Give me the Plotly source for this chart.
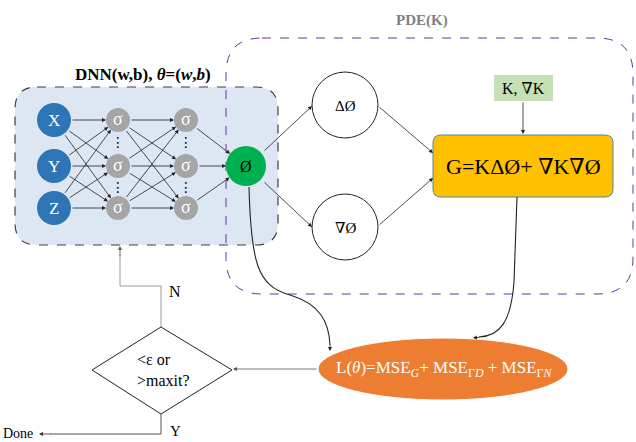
import numpy as np
import plotly.graph_objects as go

# labels
input_labels = ["X", "Y", "Z"]
hidden_label = "σ"
output_label = "Ø"
pde_terms = ["ΔØ", "∇Ø"]
coef_label = "K, ∇K"
pde_formula = "G=KΔØ+ ∇K∇Ø"
loss_formula = "L(<i>θ</i>)=MSE<sub><i>G</i></sub>+ MSE<sub>Γ<i>D</i></sub> + MSE<sub>Γ<i>N</i></sub>"
check_label = "&lt;ε or<br>&gt;maxit?"
dnn_title = "<b>DNN(w,b), <i>θ</i>=(<i>w</i>,<i>b</i>)</b>"
pde_title = "<b>PDE(K)</b>"

W, H = 636, 442
SERIF = "Liberation Serif, Times New Roman, DejaVu Serif, serif"

shapes = []
annotations = []


def rounded_rect(x0, y0, x1, y1, r):
    return (f"M {x0+r},{y0} L {x1-r},{y0} Q {x1},{y0} {x1},{y0+r} "
            f"L {x1},{y1-r} Q {x1},{y1} {x1-r},{y1} L {x0+r},{y1} "
            f"Q {x0},{y1} {x0},{y1-r} L {x0},{y0+r} Q {x0},{y0} {x0+r},{y0} Z")


def circle(cx, cy, r, fill, line="rgba(0,0,0,0)", lw=0):
    shapes.append(dict(type="circle", x0=cx - r, x1=cx + r, y0=cy - r, y1=cy + r,
                       fillcolor=fill, line=dict(color=line, width=lw)))


def text(x, y, s, size=14, color="black", family=SERIF, **kw):
    annotations.append(dict(x=x, y=y, text=s, showarrow=False,
                            font=dict(size=size, color=color, family=family), **kw))


def arrow(x0, y0, x1, y1, color="#222", width=0.8, size=1.0):
    annotations.append(dict(x=x1, y=y1, ax=x0, ay=y0, xref="x", yref="y", axref="x", ayref="y",
                            text="", showarrow=True, arrowhead=2, arrowsize=size,
                            arrowwidth=width, arrowcolor=color))


def edge_arrow(c0, r0, c1, r1):
    p0, p1 = np.array(c0, float), np.array(c1, float)
    d = (p1 - p0) / np.linalg.norm(p1 - p0)
    a, b = p0 + d * r0, p1 - d * r1
    arrow(a[0], a[1], b[0], b[1])


# containers
shapes.append(dict(type="path", path=rounded_rect(15, 87, 278, 245, 22),
                   fillcolor="#dde7f3", line=dict(color="#404040", width=1.2, dash="dash")))
shapes.append(dict(type="path", path=rounded_rect(226, 38, 633, 294, 36),
                   fillcolor="rgba(0,0,0,0)", line=dict(color="#7030a0", width=1, dash="dash")))
text(143, 74, dnn_title, size=17)
text(422, 20, pde_title, size=15, color="#7f7f7f")

# network
ys = [120, 166, 208]
in_x, h1_x, h2_x = 54, 118, 186
out = (246, 166)
r_in, r_h, r_out = 17, 12, 20

for i in range(3):
    for j in range(3):
        edge_arrow((in_x, ys[i]), r_in, (h1_x, ys[j]), r_h)
        edge_arrow((h1_x, ys[i]), r_h, (h2_x, ys[j]), r_h)
    edge_arrow((h2_x, ys[i]), r_h, out, r_out)

for y, lab in zip(ys, input_labels):
    circle(in_x, y, r_in, "#2e75b6")
    text(in_x, y, lab, size=17, color="white")
for x in (h1_x, h2_x):
    for y in ys:
        circle(x, y, r_h, "#a5a5a5")
        text(x, y - 1, hidden_label, size=18, color="white")
    for y in (142, 187):
        text(x, y, "⋮", size=14, color="#000000", family="DejaVu Sans")
circle(out[0], out[1], r_out, "#00b050")
text(out[0], out[1], output_label, size=16)

# PDE part
pde_c = [(345, 105), (345, 227)]
for (cx, cy), lab in zip(pde_c, pde_terms):
    circle(cx, cy, 33, "white", "#222", 1)
    text(cx, cy + 1, lab, size=15)
arrow(263, 152, 312, 106)
arrow(263, 181, 312, 227)
arrow(378, 106, 433, 153)
arrow(378, 226, 433, 178)

shapes.append(dict(type="rect", x0=494, x1=553, y0=75, y1=101, fillcolor="#c5e0b4",
                   line=dict(width=0)))
text(523, 88, coef_label, size=16)
arrow(523, 101, 523, 134)

shapes.append(dict(type="path", path=rounded_rect(433, 135, 613, 197, 8),
                   fillcolor="#ffc000", line=dict(color="#5b7fa5", width=1)))
text(523, 166, pde_formula, size=22)

# loss
shapes.append(dict(type="circle", x0=318, x1=568, y0=338, y1=400, fillcolor="#ed7d31",
                   line=dict(color="white", width=1)))
text(444, 369, loss_formula, size=17, color="white")

shapes.append(dict(type="path", path="M 249,187 C 251,262 257,286 290,295 C 320,304 329,322 330,345",
                   line=dict(color="#222", width=1.1)))
arrow(330, 343, 330, 351)
shapes.append(dict(type="path", path="M 517,197 L 514,282 C 511,322 500,336 479,337",
                   line=dict(color="#222", width=1.1)))
arrow(481, 337, 473, 338)

# decision
shapes.append(dict(type="path", path="M 92,370 L 161,327 L 232,370 L 161,414 Z",
                   fillcolor="white", line=dict(color="#222", width=1)))
text(163, 370, check_label, size=16, align="left")
arrow(318, 369, 233, 369, color="#555")

shapes.append(dict(type="path", path="M 161,327 L 161,286 L 120,286 L 120,255",
                   line=dict(color="#999", width=1)))
arrow(120, 258, 120, 246, color="#555")
text(175, 291, "N", size=16)
shapes.append(dict(type="path", path="M 161,414 L 161,434 L 50,434",
                   line=dict(color="#555", width=1)))
arrow(52, 434, 39, 434, color="#333")
text(18, 433, "Done", size=14)
text(175, 431, "Y", size=15)

fig = go.Figure()
fig.update_layout(
    width=W, height=H, margin=dict(l=0, r=0, t=0, b=0),
    plot_bgcolor="white", paper_bgcolor="white",
    xaxis=dict(range=[0, W], visible=False, fixedrange=True),
    yaxis=dict(range=[H, 0], visible=False, fixedrange=True),
    shapes=shapes, annotations=annotations, showlegend=False,
)
fig.write_html("out.html", config=dict(displayModeBar=False),
               post_script="document.body.style.margin='0';document.body.style.overflow='hidden';")
